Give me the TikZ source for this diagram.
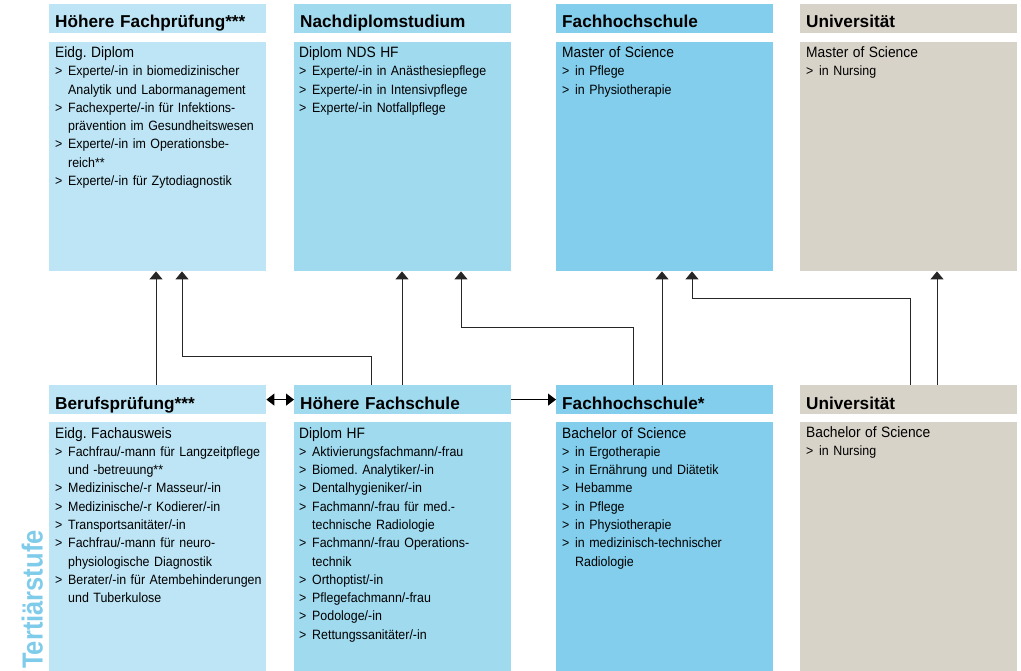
\documentclass[tikz,border=0pt]{standalone}
\usepackage{fontspec}
\setmainfont{Liberation Sans}
\newfontfamily\itmfont{Liberation Sans}[FakeStretch=0.92]
\newfontfamily\sidefont{Liberation Sans}[FakeStretch=0.88]
\usetikzlibrary{arrows.meta}
\frenchspacing
\definecolor{cA}{HTML}{BDE5F5}
\definecolor{cB}{HTML}{A0DAEF}
\definecolor{cC}{HTML}{82CEEC}
\definecolor{cD}{HTML}{D8D3C9}
\definecolor{cT}{HTML}{7FCBEA}
\newcommand\ttl[1]{{\fontsize{15}{18.3}\selectfont #1}}
\newcommand\li[1]{\\\makebox[13pt][l]{>}#1}
\newcommand\lc[1]{\\\hspace*{13pt}#1}
\tikzset{
  hdr/.style={anchor=north west, text width=205pt, inner xsep=6pt, inner ysep=0pt,
    text height=23.8pt, text depth=5pt, align=left,
    font=\bfseries\fontsize{17.2}{20}\selectfont},
  bodybox/.style={anchor=north west, inner sep=0pt, minimum width=217pt},
  bodytxt/.style={anchor=base west, inner sep=0pt, text width=212pt, align=left,
    font=\itmfont\frenchspacing\fontsize{13.5}{18.3}\selectfont},
  arr/.style={draw=black!85, line width=1pt, -{Triangle[width=13pt,length=8pt]}},
  darr/.style={draw=black, line width=1pt, {Triangle[width=12pt,length=8pt]}-{Triangle[width=12pt,length=8pt]}},
  harr/.style={draw=black, line width=1pt, -{Triangle[width=12pt,length=8pt]}}
}
\begin{document}
\begin{tikzpicture}[x=1pt,y=-1pt]
\useasboundingbox (0,0) rectangle (1021,671);
% top row headers
\node[hdr, fill=cA] (th1) at (49,4) {Höhere Fachprüfung***};
\node[hdr, fill=cB] (th2) at (294,4) {Nachdiplomstudium};
\node[hdr, fill=cC] (th3) at (556,4) {Fachhochschule};
\node[hdr, fill=cD] (th4) at (800,4) {Universität};
% top row bodies
\node[bodybox, fill=cA, minimum height=229pt] (b1) at (49,42) {};
\node[bodybox, fill=cB, minimum height=229pt] (b2) at (294,42) {};
\node[bodybox, fill=cC, minimum height=229pt] (b3) at (556,42) {};
\node[bodybox, fill=cD, minimum height=229pt] (b4) at (800,42) {};
\node[bodytxt] (t1) at ([shift={(6pt,-15.5pt)}]b1.north west) {\ttl{Eidg. Diplom}
  \li{Experte/-in in biomedizinischer}\lc{Analytik und Labormanagement}
  \li{Fachexperte/-in für Infektions-}\lc{prävention im Gesundheitswesen}
  \li{Experte/-in im Operationsbe-}\lc{reich**}
  \li{Experte/-in für Zytodiagnostik}};
\node[bodytxt] (t2) at ([shift={(5pt,-15.5pt)}]b2.north west) {\ttl{Diplom NDS HF}
  \li{Experte/-in in Anästhesiepflege}
  \li{Experte/-in in Intensivpflege}
  \li{Experte/-in Notfallpflege}};
\node[bodytxt] (t3) at ([shift={(6pt,-15.5pt)}]b3.north west) {\ttl{Master of Science}
  \li{in Pflege}
  \li{in Physiotherapie}};
\node[bodytxt] (t4) at ([shift={(6pt,-15.5pt)}]b4.north west) {\ttl{Master of Science}
  \li{in Nursing}};
% bottom row headers
\node[hdr, fill=cA] (bh1) at (49,385) {Berufsprüfung***};
\node[hdr, fill=cB] (bh2) at (294,385) {Höhere Fachschule};
\node[hdr, fill=cC] (bh3) at (556,385) {Fachhochschule*};
\node[hdr, fill=cD] (bh4) at (800,385) {Universität};
% bottom row bodies
\node[bodybox, fill=cA, minimum height=249pt] (c1) at (49,422) {};
\node[bodybox, fill=cB, minimum height=249pt] (c2) at (294,422) {};
\node[bodybox, fill=cC, minimum height=249pt] (c3) at (556,422) {};
\node[bodybox, fill=cD, minimum height=249pt] (c4) at (800,422) {};
\node[bodytxt] (u1) at ([shift={(6pt,-16pt)}]c1.north west) {\ttl{Eidg. Fachausweis}
  \li{Fachfrau/-mann für Langzeitpflege}\lc{und -betreuung**}
  \li{Medizinische/-r Masseur/-in}
  \li{Medizinische/-r Kodierer/-in}
  \li{Transportsanitäter/-in}
  \li{Fachfrau/-mann für neuro-}\lc{physiologische Diagnostik}
  \li{Berater/-in für Atembehinderungen}\lc{und Tuberkulose}};
\node[bodytxt] (u2) at ([shift={(5pt,-16pt)}]c2.north west) {\ttl{Diplom HF}
  \li{Aktivierungsfachmann/-frau}
  \li{Biomed. Analytiker/-in}
  \li{Dentalhygieniker/-in}
  \li{Fachmann/-frau für med.-}\lc{technische Radiologie}
  \li{Fachmann/-frau Operations-}\lc{technik}
  \li{Orthoptist/-in}
  \li{Pflegefachmann/-frau}
  \li{Podologe/-in}
  \li{Rettungssanitäter/-in}};
\node[bodytxt] (u3) at ([shift={(6pt,-16pt)}]c3.north west) {\ttl{Bachelor of Science}
  \li{in Ergotherapie}
  \li{in Ernährung und Diätetik}
  \li{Hebamme}
  \li{in Pflege}
  \li{in Physiotherapie}
  \li{in medizinisch-technischer}\lc{Radiologie}};
\node[bodytxt] (u4) at ([shift={(6pt,-15pt)}]c4.north west) {\ttl{Bachelor of Science}
  \li{in Nursing}};
% side label
\node[rotate=90, anchor=base west, inner sep=0pt, text=cT,
  font=\sidefont\bfseries\fontsize{29}{29}\selectfont] (ts) at (42.7,669) {Tertiärstufe};
% connectors
\draw[arr] ([xshift=107pt]bh1.north west) -- ([xshift=107pt]b1.south west);
\draw[arr] ([xshift=77pt]bh2.north west) -- ++(0,-29) -| ([xshift=133pt]b1.south west);
\draw[arr] ([xshift=108pt]bh2.north west) -- ([xshift=108pt]b2.south west);
\draw[arr] ([xshift=77pt]bh3.north west) -- ++(0,-57) -| ([xshift=167pt]b2.south west);
\draw[arr] ([xshift=106pt]bh3.north west) -- ([xshift=106pt]b3.south west);
\draw[arr] ([xshift=110pt]bh4.north west) -- ++(0,-86) -| ([xshift=136pt]b3.south west);
\draw[arr] ([xshift=137pt]bh4.north west) -- ([xshift=137pt]b4.south west);
\draw[darr] (bh1.east) -- (bh2.west);
\draw[harr] (bh2.east) -- (bh3.west);
\end{tikzpicture}
\end{document}
